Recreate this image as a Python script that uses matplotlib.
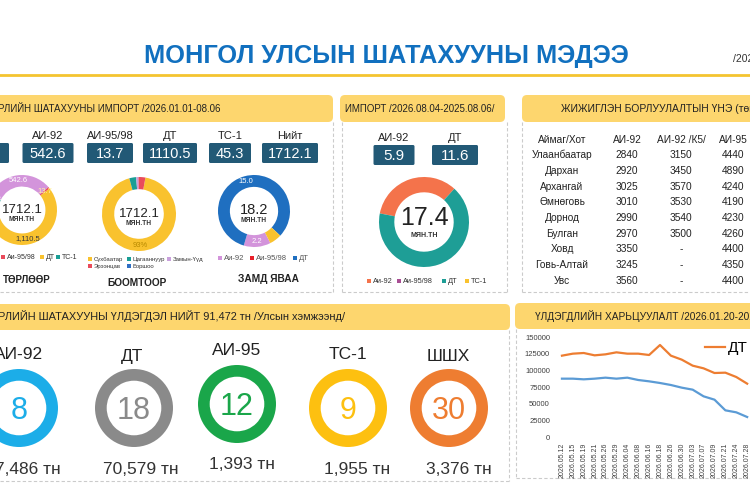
import matplotlib
matplotlib.use('Agg')
import matplotlib.pyplot as plt
from matplotlib import font_manager
from matplotlib.patches import FancyBboxPatch, Rectangle

# шрифт: нарийн хувилбар байвал түүнийг
names_installed = {f.name for f in font_manager.fontManager.ttflist}
NARROW = 'Liberation Sans Narrow' if 'Liberation Sans Narrow' in names_installed else 'Liberation Sans'
plt.rcParams['font.family'] = [NARROW, 'DejaVu Sans']

# =============================================================================
# DATA
# =============================================================================
imp_labels = ['АИ-80', 'АИ-92', 'АИ-95/98', 'ДТ', 'ТС-1', 'Нийт']
imp_values = [0.0, 542.6, 13.7, 1110.5, 45.3, 1712.1]

type_names = ['Аи-92', 'Аи-95/98', 'ДТ', 'ТС-1']
type_values = [542.6, 13.7, 1110.5, 45.3]
type_total = 1712.1

port_names = ['Сүхбаатар', 'Цагааннуур', 'Замын-Үүд', 'Эрээнцав', 'Боршоо']
port_share = [93, 3, 1, 3, 0]
port_total = 1712.1

road_names = ['Аи-92', 'Аи-95/98', 'ДТ', 'ТС-1']
road_values = [2.2, 0.0, 15.0, 1.0]
road_total = 18.2

week_labels = ['АИ-92', 'ДТ']
week_values = [5.9, 11.6]
week_names = ['Аи-92', 'Аи-95/98', 'ДТ', 'ТС-1']
week_pie = [5.9, 0.0, 11.6, 0.0]
week_total = 17.4

tbl_head = ['Аймаг/Хот', 'АИ-92', 'АИ-92 /К5/', 'АИ-95']
tbl_city = ['Улаанбаатар', 'Дархан', 'Архангай', 'Өмнөговь', 'Дорнод',
            'Булган', 'Ховд', 'Говь-Алтай', 'Увс']
tbl_ai92 = ['2840', '2920', '3025', '3010', '2990', '2970', '3350', '3245', '3560']
tbl_k5 = ['3150', '3450', '3570', '3530', '3540', '3500', '-', '-', '-']
tbl_ai95 = ['4440', '4890', '4240', '4190', '4230', '4260', '4400', '4350', '4400']

stock_total = '91,472'
stock_names = ['АИ-92', 'ДТ', 'АИ-95', 'ТС-1', 'ШШХ']
stock_days = [8, 18, 12, 9, 30]
stock_tons = [7486, 70579, 1393, 1955, 3376]

dates = ['2026.05.12', '2026.05.15', '2026.05.19', '2026.05.21', '2026.05.26',
         '2026.05.29', '2026.06.04', '2026.06.08', '2026.06.16', '2026.06.18',
         '2026.06.26', '2026.06.30', '2026.07.03', '2026.07.07', '2026.07.09',
         '2026.07.21', '2026.07.24', '2026.07.28']
dt_stock = [122000, 125000, 126000, 122500, 124000, 127000, 125000, 125000, 123000,
            138000, 122000, 116000, 107000, 103000, 96000, 96500, 90000, 80000]
ai92_stock = [87500, 87500, 86500, 87500, 89000, 87500, 89000, 85500, 83500,
              81000, 78000, 74000, 71000, 61000, 56000, 40000, 37000, 30000]

# =============================================================================
# helpers
# =============================================================================
W, H = 750, 500
HDR = '#FDD66E'
BOX = '#225976'
DASH = '#CBCBCB'
TXT = '#222222'

fig = plt.figure(figsize=(7.5, 5), dpi=100)
bg = fig.add_axes([0, 0, 1, 1])
bg.set_xlim(0, W)
bg.set_ylim(H, 0)
bg.axis('off')


def ring_axes(cx, cy, r):
    ax = fig.add_axes([(cx - r) / W, 1 - (cy + r) / H, 2 * r / W, 2 * r / H])
    return ax


def fix_ring(ax):
    ax.set_xlim(-1, 1)
    ax.set_ylim(-1, 1)
    ax.axis('off')


def header(x, y, w, h, text, tx, fs, ha='left'):
    bg.add_patch(FancyBboxPatch((x, y), w, h, boxstyle='round,pad=0,rounding_size=5',
                                fc=HDR, ec='none'))
    bg.text(tx, y + h / 2 + 3.5, text, ha=ha, va='baseline', fontsize=fs, color=TXT)


def dashed(xs, ys):
    bg.plot(xs, ys, color=DASH, lw=0.8, ls=(0, (3, 2)))


def legend_row(xs, y, labels, colors, fs, tc='#333333'):
    for xx, lab, col in zip(xs, labels, colors):
        bg.add_patch(Rectangle((xx, y - 2), 4, 4, fc=col, ec='none'))
        bg.text(xx + 5.5, y + 2, lab, fontsize=fs, color=tc, va='baseline')


def value_box(cx, w, y, label, value, fs=10.5):
    bg.add_patch(FancyBboxPatch((cx - w / 2, y), w, 20, boxstyle='round,pad=0,rounding_size=1.5',
                                fc=BOX, ec='none'))
    bg.text(cx, y + 15.5, value, ha='center', va='baseline', fontsize=fs, color='white')
    bg.text(cx, y - 4, label, ha='center', va='baseline', fontsize=8, color=TXT)


# =============================================================================
# title
# =============================================================================
bg.text(386, 63, 'МОНГОЛ УЛСЫН ШАТАХУУНЫ МЭДЭЭ', ha='center', va='baseline',
        fontsize=18.3, fontweight='bold', color='#1170BF',
        family=['Liberation Sans', 'DejaVu Sans'])
bg.text(733, 62, '/2026.08.06/', fontsize=7.5, color='#333333', va='baseline')
bg.plot([0, W], [75, 75], color='#F4C430', lw=2)

# headers
header(-10, 95, 343, 27, 'РЛИЙН ШАТАХУУНЫ ИМПОРТ /2026.01.01-08.06', -2, 7)
header(340, 95, 165, 27, 'ИМПОРТ /2026.08.04-2025.08.06/', 420, 7, ha='center')
header(522, 95, 240, 27, 'ЖИЖИГЛЭН БОРЛУУЛАЛТЫН ҮНЭ (төгрөг)', 561, 7.5)
header(-10, 304, 520, 26,
       'РЛИЙН ШАТАХУУНЫ ҮЛДЭГДЭЛ НИЙТ ' + stock_total + ' тн /Улсын хэмжээнд/', -2, 7.9)
header(515, 303, 245, 26, 'ҮЛДЭГДЛИЙН ХАРЬЦУУЛАЛТ /2026.01.20-2026.08.06/', 535, 7.3)

# dashed panel borders
dashed([333, 333], [122, 292]); dashed([0, 333], [292, 292])
dashed([342, 342], [122, 292]); dashed([507, 507], [122, 292]); dashed([342, 507], [292, 292])
dashed([522, 522], [122, 292]); dashed([522, 750], [292, 292])
dashed([509, 509], [330, 481]); dashed([0, 509], [481, 481])
dashed([516, 516], [329, 478]); dashed([516, 750], [478, 478])

# =============================================================================
# top-left: import by type
# =============================================================================
box_cx = [-16, 48, 110, 170, 230, 290]
box_w = [50, 51, 46, 54, 42, 56]
for cx, w, lab, val in zip(box_cx, box_w, imp_labels, imp_values):
    value_box(cx, w, 143, lab, f'{val:.1f}')

type_colors = ['#D394DB', '#E94B5B', '#F9C22E', '#1A9E95']
ax_d1 = ring_axes(22, 210, 35)
_, _, at = ax_d1.pie(type_values, colors=type_colors, startangle=155, counterclock=False,
                     wedgeprops=dict(width=0.33, lw=0),
                     autopct=lambda p: f'{p * type_total / 100:,.1f}', pctdistance=0.84,
                     textprops=dict(fontsize=5.5))
for t, c in zip(at, ['white', '#FFF2A8', '#3A3A3A', 'white']):
    t.set_color(c)
fix_ring(ax_d1)
bg.text(22, 213, f'{type_total:.1f}', ha='center', va='baseline', fontsize=9.5, color=TXT)
bg.text(22, 221, 'МЯН.ТН', ha='center', va='baseline', fontsize=4.8, color='#333333', fontweight='bold')
legend_row([-27, 1, 40, 56], 257, type_names, type_colors, 5)
bg.text(27, 283, 'ТӨРЛӨӨР', ha='center', va='baseline', fontsize=7, color=TXT, fontweight='bold')

port_colors = ['#F9C22E', '#1A9E95', '#C9A0DC', '#E94B5B', '#2F6FC4']
ax_d2 = ring_axes(139, 214, 37)
_, _, at = ax_d2.pie(port_share, colors=port_colors, startangle=80, counterclock=False,
                     wedgeprops=dict(width=0.33, lw=0),
                     autopct=lambda p: f'{p:.0f}%' if p > 50 else '', pctdistance=0.84,
                     textprops=dict(fontsize=5.5, color='#B88A00'))
fix_ring(ax_d2)
bg.text(139, 217, f'{port_total:.1f}', ha='center', va='baseline', fontsize=9.5, color=TXT)
bg.text(139, 225, 'МЯН.ТН', ha='center', va='baseline', fontsize=4.8, color='#333333', fontweight='bold')
legend_row([88, 127, 167], 259, port_names[:3], port_colors[:3], 4.3)
legend_row([88, 127], 266, port_names[3:], port_colors[3:], 4.3)
bg.text(137, 286, 'БООМТООР', ha='center', va='baseline', fontsize=7.3, color=TXT, fontweight='bold')

road_colors = ['#D394DB', '#E8202A', '#1F6FC0', '#F9C22E']
ax_d3 = ring_axes(254, 211, 36)
_, _, at = ax_d3.pie(road_values, colors=road_colors, startangle=297, counterclock=False,
                     wedgeprops=dict(width=0.33, lw=0),
                     autopct=lambda p: f'{p * road_total / 100:.1f}' if p > 10 else '',
                     pctdistance=0.84, textprops=dict(fontsize=5.5, color='white'))
fix_ring(ax_d3)
bg.text(254, 214, f'{road_total:.1f}', ha='center', va='baseline', fontsize=10.5, color=TXT)
bg.text(254, 222, 'МЯН.ТН', ha='center', va='baseline', fontsize=4.8, color='#333333', fontweight='bold')
legend_row([218, 250, 293], 258, road_names[:3], road_colors[:3], 5.5, tc='#555555')
bg.text(268, 282, 'ЗАМД ЯВАА', ha='center', va='baseline', fontsize=7.3, color=TXT, fontweight='bold')

# =============================================================================
# middle: weekly import
# =============================================================================
for cx, w, lab, val in zip([394, 455], [41, 46], week_labels, week_values):
    value_box(cx, w, 145, lab, f'{val:.1f}', fs=11)

week_colors = ['#F4734B', '#A94E94', '#1E9E96', '#F9C22E']
ax_w = ring_axes(424, 222, 45)
ax_w.pie(week_pie, colors=week_colors, startangle=169, counterclock=False,
         wedgeprops=dict(width=0.34, lw=0))
fix_ring(ax_w)
bg.text(424, 225, f'{week_total:.1f}', ha='center', va='baseline', fontsize=18, color=TXT)
bg.text(424, 237, 'МЯН.ТН', ha='center', va='baseline', fontsize=5, color='#333333', fontweight='bold')
legend_row([367, 397, 442, 465], 281, week_names, week_colors, 5.3)

# =============================================================================
# right: retail price table
# =============================================================================
tbl_x = [562, 627, 681, 733]
for xx, h in zip(tbl_x, tbl_head):
    bg.text(xx, 143, h, ha='center', va='baseline', fontsize=7.3, color=TXT)
for i, row in enumerate(zip(tbl_city, tbl_ai92, tbl_k5, tbl_ai95)):
    yy = 158 + i * 15.75
    for xx, cell in zip(tbl_x, row):
        bg.text(xx, yy, cell, ha='center', va='baseline', fontsize=7.3, color=TXT)

# =============================================================================
# bottom-left: stock rings
# =============================================================================
stock_colors = ['#1CADE8', '#8A8A8A', '#1AA64A', '#FDC010', '#EE7D31']
ring_cx = [19, 134, 237, 348, 449]
ring_cy = [408, 408, 404, 408, 408]
lab_x = [19, 132, 237, 348, 448]
lab_y = [359, 361, 355, 359, 361]
ton_x = [28, 141, 242, 357, 459]
ton_y = [474, 474, 469, 474, 474]
for k in range(len(stock_names)):
    ax_r = ring_axes(ring_cx[k], ring_cy[k], 39)
    ax_r.pie([stock_days[k]], colors=[stock_colors[k]], wedgeprops=dict(width=0.3, lw=0))
    fix_ring(ax_r)
    bg.text(ring_cx[k], ring_cy[k] + 11, str(stock_days[k]), ha='center', va='baseline',
            fontsize=22, color=stock_colors[k])
    bg.text(lab_x[k], lab_y[k], stock_names[k], ha='center', va='baseline', fontsize=12.5, color=TXT)
    bg.text(ton_x[k], ton_y[k], f'{stock_tons[k]:,} тн', ha='center', va='baseline',
            fontsize=12.5, color='#333333')

# =============================================================================
# bottom-right: stock comparison line
# =============================================================================
ax_l = fig.add_axes([556.5 / W, (H - 437) / H, 207 / W, 100 / H])
xx = list(range(len(dates)))
ax_l.plot(xx, dt_stock, color='#ED7D31', lw=1.6, label='ДТ')
ax_l.plot(xx, ai92_stock, color='#5B9BD5', lw=1.6, label='АИ-92')
ax_l.set_xlim(-0.5, 18.5)
ax_l.set_ylim(0, 150000)
yt = list(range(0, 150001, 25000))
ax_l.set_yticks(yt, [str(v) for v in yt])
ax_l.set_xticks(xx, dates, rotation=90)
ax_l.tick_params(axis='y', length=0, pad=4.7, labelsize=5.5, labelcolor='#404040')
ax_l.tick_params(axis='x', length=0, pad=4.3, labelsize=5, labelcolor='#404040')
for s in ax_l.spines.values():
    s.set_visible(False)
ax_l.patch.set_alpha(0)
ax_l.legend(loc='center left', bbox_to_anchor=(705 / W, 1 - 348 / H), bbox_transform=fig.transFigure,
            ncol=2, frameon=False, fontsize=11, handlelength=1.3, handletextpad=0.2,
            columnspacing=0.3, borderpad=0, borderaxespad=0)

fig.savefig('out.png', dpi=100)
